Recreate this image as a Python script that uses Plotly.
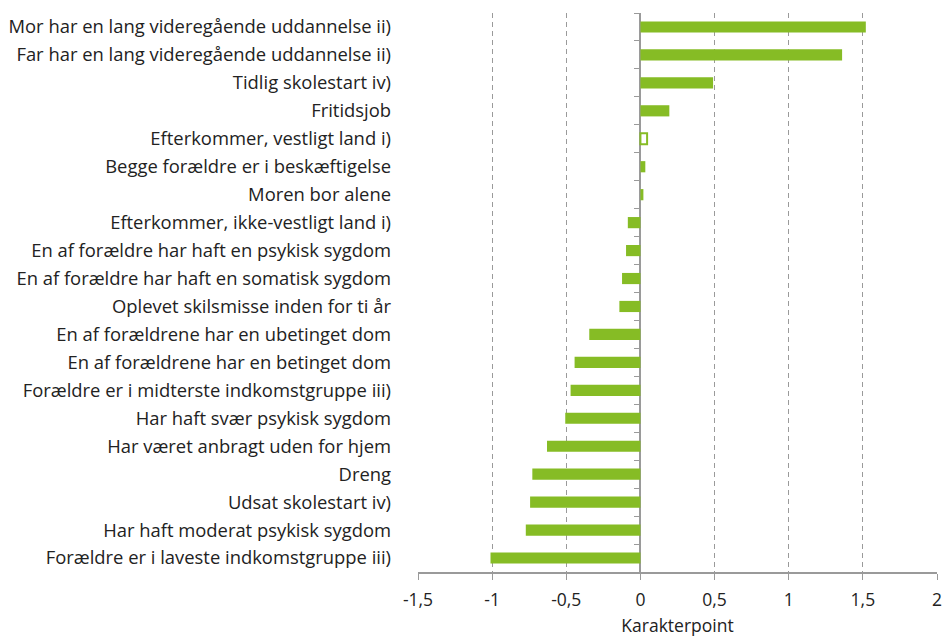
import plotly.graph_objects as go

categories = [
    "Mor har en lang videregående uddannelse ii)",
    "Far har en lang videregående uddannelse ii)",
    "Tidlig skolestart iv)",
    "Fritidsjob",
    "Efterkommer, vestligt land i)",
    "Begge forældre er i beskæftigelse",
    "Moren bor alene",
    "Efterkommer, ikke-vestligt land i)",
    "En af forældre har haft en psykisk sygdom",
    "En af forældre har haft en somatisk sygdom",
    "Oplevet skilsmisse inden for ti år",
    "En af forældrene har en ubetinget dom",
    "En af forældrene har en betinget dom",
    "Forældre er i midterste indkomstgruppe iii)",
    "Har haft svær psykisk sygdom",
    "Har været anbragt uden for hjem",
    "Dreng",
    "Udsat skolestart iv)",
    "Har haft moderat psykisk sygdom",
    "Forældre er i laveste indkomstgruppe iii)",
]
values = [1.52, 1.36, 0.49, 0.195, 0.045, 0.033, 0.02, -0.085, -0.097, -0.124,
          -0.142, -0.345, -0.444, -0.471, -0.507, -0.63, -0.729, -0.744, -0.773, -1.011]
significant = [True, True, True, True, False, True, True, True, True, True,
               True, True, True, True, True, True, True, True, True, True]
x_tickvals = [-1.5, -1, -0.5, 0, 0.5, 1, 1.5, 2]
x_ticktext = ["-1,5", "-1", "-0,5", "0", "0,5", "1", "1,5", "2"]
x_title = "Karakterpoint"

GREEN = "#86bc25"
GRAY = "#9a9a9a"
FONT = "Open Sans"

fills = [GREEN if s else "white" for s in significant]

fig = go.Figure()
fig.add_trace(go.Bar(
    x=values, y=categories, orientation="h",
    marker=dict(color=fills, line=dict(color=GREEN, width=[0 if s else 2 for s in significant])),
    width=0.4, showlegend=False, hoverinfo="x+y",
))
n = len(categories)
fig.add_trace(go.Scatter(x=[0], y=[0], yaxis="y2", mode="markers",
                         marker=dict(opacity=0), showlegend=False, hoverinfo="skip"))

xmin, xmax = x_tickvals[0], x_tickvals[-1]
zero_pos = (0 - xmin) / (xmax - xmin)

fig.update_layout(
    width=946, height=637,
    margin=dict(l=418, r=9, t=13, b=65, autoexpand=False),
    plot_bgcolor="white", paper_bgcolor="white",
    font=dict(family=FONT, size=18.4, color="#222222"),
    xaxis=dict(
        range=[xmin, xmax], tickvals=x_tickvals, ticktext=x_ticktext,
        showgrid=True, gridcolor=GRAY, griddash="5px,4px", gridwidth=1,
        zeroline=True, zerolinecolor=GRAY, zerolinewidth=1.5,
        showline=True, linecolor=GRAY, linewidth=1.5,
        ticks="outside", ticklen=6, tickcolor=GRAY, ticklabelstandoff=5,
        title=dict(text=x_title, standoff=14, font=dict(size=17.5)),
        tickfont=dict(size=17.5), automargin=False,
    ),
    yaxis=dict(
        type="category", categoryorder="array", categoryarray=categories,
        range=[n - 0.5, -0.5], showgrid=False, zeroline=False, showline=False,
        ticks="", ticklabelstandoff=26, tickfont=dict(size=18.4), automargin=False,
    ),
    yaxis2=dict(
        overlaying="y", anchor="free", position=zero_pos, side="left",
        range=[n - 0.5, -0.5], tickvals=[i - 0.5 for i in range(n + 1)],
        showticklabels=False, ticks="outside", ticklen=6, tickcolor=GRAY,
        showline=False, showgrid=False, zeroline=False, automargin=False,
    ),
    bargap=0.6,
)

fig.write_html(
    "out.html",
    config={"displayModeBar": False},
    post_script="document.body.style.margin='0';document.body.style.overflow='hidden';",
)
